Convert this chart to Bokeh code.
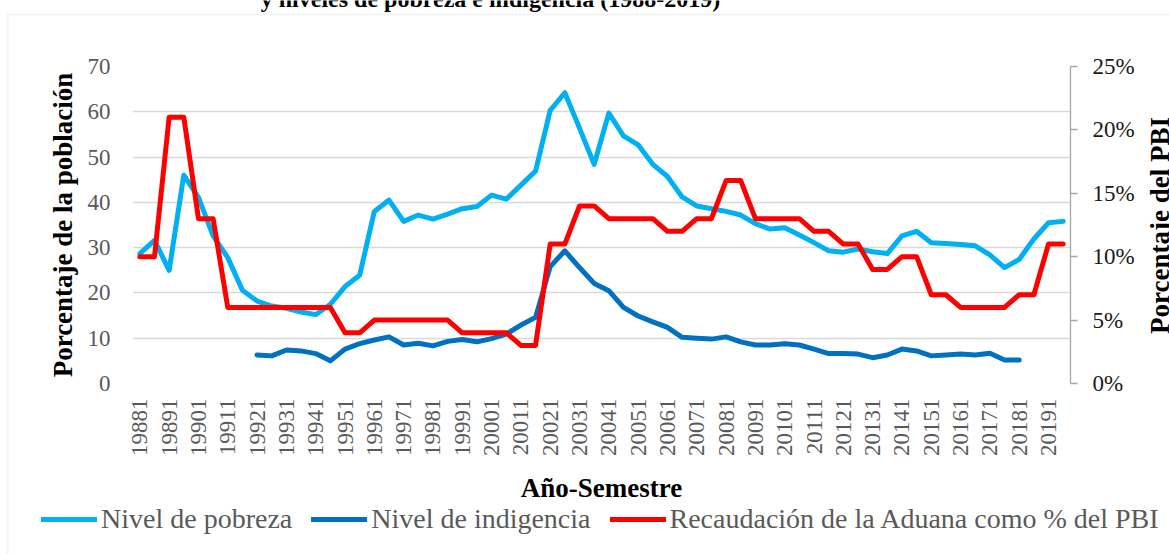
from math import pi
import numpy as np
from bokeh.plotting import figure
from bokeh.models import (Range1d, LinearAxis, FixedTicker, NumeralTickFormatter,
                          Legend, LegendItem, Label, BoxAnnotation)
from bokeh.embed import file_html
from bokeh.resources import INLINE

# ---------------- data ----------------
periodos = ["19881", "19882", "19891", "19892", "19901", "19902", "19911", "19912",
            "19921", "19922", "19931", "19932", "19941", "19942", "19951", "19952",
            "19961", "19962", "19971", "19972", "19981", "19982", "19991", "19992",
            "20001", "20002", "20011", "20012", "20021", "20022", "20031", "20032",
            "20041", "20042", "20051", "20052", "20061", "20062", "20071", "20072",
            "20081", "20082", "20091", "20092", "20101", "20102", "20111", "20112",
            "20121", "20122", "20131", "20132", "20141", "20142", "20151", "20152",
            "20161", "20162", "20171", "20172", "20181", "20182", "20191", "20192"]

etiquetas = ["19881", "19891", "19901", "19911", "19921", "19931", "19941", "19951",
             "19961", "19971", "19981", "19991", "20001", "20011", "20021", "20031",
             "20041", "20051", "20061", "20071", "20081", "20091", "20101", "20111",
             "20121", "20131", "20141", "20151", "20161", "20171", "20181", "20191"]

pobreza = [28.7, 31.6, 25.0, 46.0, 41.1, 32.6, 27.8, 20.6, 18.2, 17.1, 16.6, 15.8,
           15.2, 17.5, 21.4, 23.9, 38.0, 40.5, 35.8, 37.2, 36.3, 37.4, 38.6, 39.1,
           41.6, 40.7, 43.8, 46.9, 60.3, 64.2, 56.4, 48.4, 59.7, 54.7, 52.7, 48.4,
           45.7, 41.2, 39.2, 38.6, 38.0, 37.2, 35.3, 34.1, 34.4, 32.8, 31.1, 29.3,
           29.0, 29.7, 29.1, 28.7, 32.6, 33.6, 31.1, 30.9, 30.7, 30.4, 28.4, 25.6,
           27.4, 31.9, 35.5, 35.8]

indigencia = [None, None, None, None, None, None, None, None, 6.3, 6.1, 7.4, 7.2,
              6.6, 5.0, 7.6, 8.8, 9.6, 10.3, 8.5, 8.9, 8.3, 9.3, 9.7, 9.2,
              9.9, 10.9, 12.9, 14.6, 25.8, 29.3, 25.6, 22.1, 20.5, 16.8, 14.9, 13.6,
              12.4, 10.2, 10.0, 9.8, 10.3, 9.2, 8.5, 8.5, 8.8, 8.5, 7.6, 6.6,
              6.6, 6.5, 5.7, 6.3, 7.6, 7.2, 6.1, 6.3, 6.5, 6.3, 6.7, 5.2,
              5.2, None, None, None]

aduana = [0.10, 0.10, 0.21, 0.21, 0.13, 0.13, 0.06, 0.06, 0.06, 0.06, 0.06, 0.06,
          0.06, 0.06, 0.04, 0.04, 0.05, 0.05, 0.05, 0.05, 0.05, 0.05, 0.04, 0.04,
          0.04, 0.04, 0.03, 0.03, 0.11, 0.11, 0.14, 0.14, 0.13, 0.13, 0.13, 0.13,
          0.12, 0.12, 0.13, 0.13, 0.16, 0.16, 0.13, 0.13, 0.13, 0.13, 0.12, 0.12,
          0.11, 0.11, 0.09, 0.09, 0.10, 0.10, 0.07, 0.07, 0.06, 0.06, 0.06, 0.06,
          0.07, 0.07, 0.11, 0.11]

ticks_izq = [0, 10, 20, 30, 40, 50, 60, 70]
ticks_der = [0, 0.05, 0.10, 0.15, 0.20, 0.25]

serie_nombres = ["Nivel de pobreza", "Nivel de indigencia",
                 "Recaudación de la Aduana como % del PBI"]
serie_colores = ["#00B0F0", "#0070C0", "#FF0000"]
titulo = "y niveles de pobreza e indigencia (1988-2019)"

# ---------------- layout ----------------
W, H = 1169, 554
L, R, T, B = 132, 99, 66, 171
n = len(periodos)
YMAX = 70
LW = 5

SERIF = "Liberation Serif"
GRAY = "#595959"
GRID = "#d9d9d9"
AT_ORIGIN = {"position": "absolute", "top": "0px", "left": "0px"}

# background canvas in page coordinates: chart frame, titles and legend
bg = figure(width=W, height=H, x_range=Range1d(0, W), y_range=Range1d(H, 0),
            x_axis_type=None, y_axis_type=None, output_backend="svg",
            toolbar_location=None, min_border_left=0, min_border_right=0,
            min_border_top=0, min_border_bottom=0, outline_line_color=None,
            background_fill_color="white", border_fill_color="white",
            styles=AT_ORIGIN)

bg.add_layout(BoxAnnotation(left=7, right=W + 50, top=14, bottom=H + 50, fill_alpha=0,
                            line_color=GRID, line_width=2))

# title: only its lower part shows at the top edge, as in the original
bg.add_layout(Label(x=490, y=-2, text=titulo, text_align="center",
                    text_baseline="alphabetic", text_font=SERIF, text_font_size="24px",
                    text_font_style="bold", text_color="black"))

# secondary axis title, reading upwards, slightly cut by the right edge
bg.add_layout(Label(x=1159, y=225, text="Porcentaje del PBI", angle=pi / 2,
                    text_align="center", text_baseline="alphabetic", text_font=SERIF,
                    text_font_size="27px", text_font_style="bold", text_color="black"))

dummies = [bg.line(x=[np.nan, np.nan], y=[np.nan, np.nan], line_color=c,
                   line_width=LW, line_cap="round")
           for c in serie_colores]
legend = Legend(items=[LegendItem(label=lab, renderers=[r])
                       for lab, r in zip(serie_nombres, dummies)],
                orientation="horizontal", location=(41, 19),
                glyph_width=56, glyph_height=20, label_standoff=4, spacing=19,
                padding=0, margin=0, border_line_color=None, background_fill_alpha=0,
                label_text_font=SERIF, label_text_font_size="28px",
                label_text_color=GRAY)
bg.add_layout(legend, "center")

# main chart, transparent, laid over the background
p = figure(width=W, height=H, x_range=Range1d(-0.5, n - 0.5), y_range=Range1d(0, YMAX),
           output_backend="svg", toolbar_location=None,
           min_border_left=L, min_border_right=R, min_border_top=T, min_border_bottom=B,
           outline_line_color=None, background_fill_alpha=0, border_fill_alpha=0,
           styles=AT_ORIGIN)

p.extra_y_ranges = {"pct": Range1d(0, 0.25)}

xs = np.arange(n)
ind = np.array([np.nan if v is None else v for v in indigencia], dtype=float)

r1 = p.line(xs, pobreza, line_color=serie_colores[0], line_width=LW, line_join="round", line_cap="round")
r2 = p.line(xs, ind, line_color=serie_colores[1], line_width=LW, line_join="round", line_cap="round")
r3 = p.line(xs, aduana, y_range_name="pct", line_color=serie_colores[2], line_width=LW,
            line_join="round", line_cap="round")

# x axis
xa = p.xaxis[0]
tick_pos = [periodos.index(e) for e in etiquetas]
xa.ticker = FixedTicker(ticks=tick_pos)
xa.major_label_overrides = {i: periodos[i] for i in tick_pos}
xa.major_label_orientation = pi / 2
xa.major_label_text_font = SERIF
xa.major_label_text_font_size = "23px"
xa.major_label_text_color = GRAY
xa.major_label_standoff = 15
xa.major_tick_out = 0
xa.major_tick_in = 0
xa.minor_tick_out = 0
xa.minor_tick_in = 0
xa.axis_line_color = None
xa.axis_label = "Año-Semestre"
xa.axis_label_text_font = SERIF
xa.axis_label_text_font_size = "27px"
xa.axis_label_text_font_style = "bold"
xa.axis_label_text_color = "black"
xa.axis_label_standoff = 14

# left axis
ya = p.yaxis[0]
ya.ticker = FixedTicker(ticks=ticks_izq)
ya.major_label_text_font = SERIF
ya.major_label_text_font_size = "23px"
ya.major_label_text_color = GRAY
ya.major_label_standoff = 22
ya.major_tick_out = 0
ya.major_tick_in = 0
ya.minor_tick_out = 0
ya.minor_tick_in = 0
ya.axis_line_color = None
ya.axis_label = "Porcentaje de la población"
ya.axis_label_text_font = SERIF
ya.axis_label_text_font_size = "27px"
ya.axis_label_text_font_style = "bold"
ya.axis_label_text_color = "black"
ya.axis_label_standoff = 7

p.xgrid.visible = False
p.ygrid.grid_line_color = GRID
p.ygrid.grid_line_width = 1.6

# right axis
ra = LinearAxis(y_range_name="pct", ticker=FixedTicker(ticks=ticks_der),
                formatter=NumeralTickFormatter(format="0%"))
ra.major_label_text_font = SERIF
ra.major_label_text_font_size = "23px"
ra.major_label_text_color = "#1a1a1a"
ra.major_tick_out = 7
ra.major_tick_in = 0
ra.minor_tick_out = 0
ra.minor_tick_in = 0
ra.major_label_standoff = 15
ra.axis_line_color = "#a6a6a6"
ra.axis_line_width = 1.3
ra.major_tick_line_color = "#a6a6a6"
ra.major_tick_line_width = 1.3
p.add_layout(ra, "right")

open("out.html", "w").write(file_html([bg, p], INLINE))
